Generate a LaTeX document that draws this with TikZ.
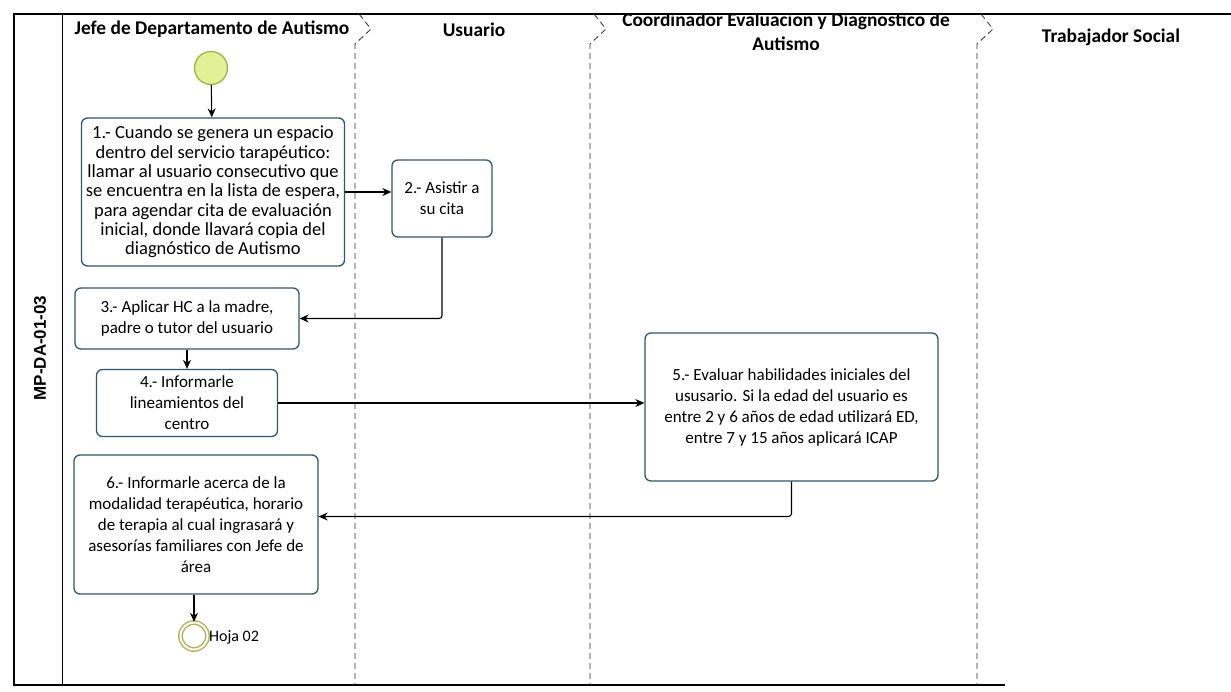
\documentclass[tikz,border=0pt]{standalone}
\usepackage{fontspec}
\setmainfont{Carlito}
\newfontfamily\arialb{Liberation Sans}
\usetikzlibrary{arrows.meta}
\definecolor{boxline}{RGB}{45,88,110}
\definecolor{startfill}{RGB}{226,240,150}
\definecolor{startline}{RGB}{160,180,70}
\definecolor{endline}{RGB}{180,175,80}
\definecolor{sepcol}{RGB}{45,45,45}
\tikzset{
  task/.style={draw=boxline, line width=1.3pt, rounded corners=6pt, fill=white,
    align=center, inner sep=1pt, font=\fontsize{17}{21}\selectfont},
  flow/.style={draw=black, line width=1.1pt, rounded corners=3pt,
    -{Stealth[length=9pt,width=8pt]}},
  lanehead/.style={font=\fontsize{19.4}{23.5}\selectfont\bfseries, align=center},
  sepline/.style={draw=sepcol, line width=0.8pt, dash pattern=on 6pt off 4pt},
  frame/.style={draw=black, line width=1.4pt}
}
\begin{document}
\begin{tikzpicture}[x=1pt,y=-1pt]
\useasboundingbox (0,0) rectangle (1231,692);
% pool frame
\draw[frame] (1231,14) -- (14,14) -- (14,685) -- (1005,685);
\draw[line width=1pt] (62,14) -- (62,685);
\node[font=\arialb\fontsize{17}{19}\selectfont\bfseries, rotate=90] (pool) at (40,348) {MP-DA-01-03};
% lane separators
\foreach \sx in {355,590,977}{
  \draw[sepline] (\sx+4,14) -- (\sx+16,29) -- (\sx,44) -- (\sx,685);
}
% lane headers
\node[lanehead] (h1) at (212,29) {Jefe de Departamento de Autismo};
\node[lanehead] (h2) at (474,30) {Usuario};
\begin{scope}
\clip (594,14) rectangle (977,60);
\node[lanehead] (h3) at (786,32) {Coordinador Evaluacion y Diagnostico de\\Autismo};
\end{scope}
\node[lanehead] (h4) at (1111,37) {Trabajador Social};
% events
\node[circle, draw=startline, fill=startfill, line width=1.3pt, minimum size=33pt, inner sep=0pt] (start) at (211,68) {};
\node[circle, draw=endline, double=white, double distance=2pt, line width=1.4pt, minimum size=27pt, inner sep=0pt] (end) at (194,636) {};
\node[anchor=west, font=\fontsize{16}{20}\selectfont, inner sep=0pt] (endlbl) at (209,637) {Hoja 02};
% tasks
\node[task, font=\fontsize{18.5}{19.3}\selectfont, minimum width=263pt, minimum height=148pt] (b1) at (213,192)
 {1.- Cuando se genera un espacio\\dentro del servicio tarapéutico:\\llamar al usuario consecutivo que\\se encuentra en la lista de espera,\\para agendar cita de evaluación\\inicial, donde llavará copia del\\diagnóstico de Autismo};
\node[task, minimum width=100pt, minimum height=77pt] (b2) at (442,198.5)
 {2.- Asistir a\\su cita};
\node[task, minimum width=224pt, minimum height=61pt] (b3) at (187,318.5)
 {3.- Aplicar HC a la madre,\\padre o tutor del usuario};
\node[task, minimum width=181pt, minimum height=67pt] (b4) at (187,403)
 {4.- Informarle\\lineamientos del\\centro};
\node[task, minimum width=293pt, minimum height=148pt] (b5) at (791.5,407)
 {5.- Evaluar habilidades iniciales del\\ususario. Si la edad del usuario es\\entre 2 y 6 años de edad utilizará ED,\\entre 7 y 15 años aplicará ICAP};
\node[task, minimum width=244pt, minimum height=139pt] (b6) at (196,524.5)
 {6.- Informarle acerca de la\\modalidad terapéutica, horario\\de terapia al cual ingrasará y\\asesorías familiares con Jefe de\\área};
% flows
\draw[flow] (start) -- (b1);
\draw[flow] (b1.east) -- (b2.west |- b1.east);
\draw[flow] (b2.south) |- (b3.east);
\draw[flow] (b3.south) -- (b4.north);
\draw[flow] (b4.east) -- (b5.west |- b4.east);
\draw[flow] (b5.south) |- ([yshift=8pt]b6.east);
\draw[flow] (b6.south -| end) -- (end.north);
\end{tikzpicture}
\end{document}
